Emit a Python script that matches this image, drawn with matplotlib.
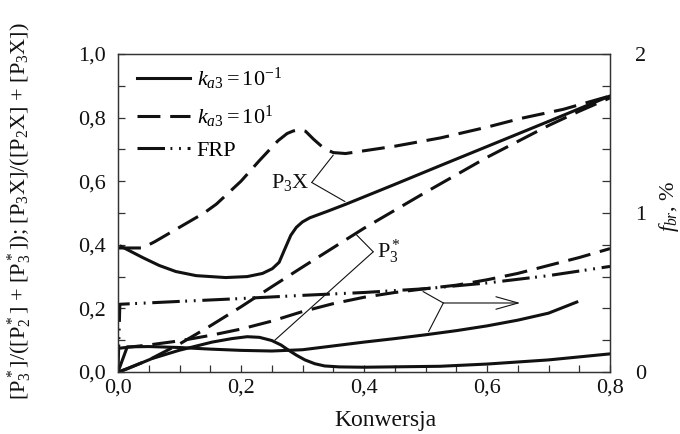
import numpy as np
import matplotlib
matplotlib.use("Agg")
import matplotlib.pyplot as plt
from matplotlib.ticker import MultipleLocator, FuncFormatter

plt.rcParams['font.family'] = ['Liberation Serif', 'DejaVu Serif']
plt.rcParams['mathtext.fontset'] = 'custom'
plt.rcParams['mathtext.rm'] = 'Liberation Serif'
plt.rcParams['mathtext.it'] = 'Liberation Serif:italic'
plt.rcParams['mathtext.bf'] = 'Liberation Serif:bold'

# --- data ---
# P3X fraction, k_a3 = 10^-1 (solid)
x_p3x_lo = [0.005, 0.02, 0.04, 0.067, 0.094, 0.127, 0.175, 0.21, 0.235, 0.251, 0.262,
            0.272, 0.281, 0.29, 0.30, 0.312, 0.34, 0.371, 0.45, 0.524, 0.6, 0.7, 0.8]
y_p3x_lo = [0.395, 0.38, 0.36, 0.335, 0.316, 0.303, 0.297, 0.30, 0.31, 0.325, 0.345,
            0.39, 0.43, 0.455, 0.472, 0.485, 0.505, 0.528, 0.59, 0.649, 0.709, 0.788, 0.868]
# P3X fraction, k_a3 = 10^1 (dashed)
x_p3x_hi = [0.0, 0.04, 0.06, 0.1, 0.14, 0.16, 0.2, 0.23, 0.26, 0.275, 0.285, 0.296,
            0.305, 0.318, 0.335, 0.35, 0.37, 0.45, 0.524, 0.6, 0.654, 0.724, 0.8]
y_p3x_hi = [0.39, 0.39, 0.41, 0.455, 0.5, 0.528, 0.6, 0.665, 0.727, 0.75, 0.758, 0.762,
            0.757, 0.732, 0.703, 0.69, 0.687, 0.71, 0.736, 0.77, 0.797, 0.826, 0.868]
# P3* fraction, k_a3 = 10^-1 (solid)
x_p3s_lo = [0.0, 0.015, 0.055, 0.099, 0.153, 0.185, 0.21, 0.23, 0.25, 0.265, 0.277, 0.29,
            0.304, 0.32, 0.336, 0.36, 0.4, 0.524, 0.6, 0.7, 0.8]
y_p3s_lo = [0.0, 0.01, 0.042, 0.068, 0.094, 0.105, 0.111, 0.109, 0.099, 0.085, 0.069, 0.053,
            0.038, 0.026, 0.019, 0.016, 0.015, 0.018, 0.025, 0.038, 0.057]
# P3* fraction, k_a3 = 10^1 (dashed)
x_p3s_hi = [0.005, 0.05, 0.1, 0.15, 0.2, 0.25, 0.3, 0.4, 0.5, 0.6, 0.7, 0.75, 0.8]
y_p3s_hi = [0.003, 0.038, 0.088, 0.145, 0.205, 0.268, 0.33, 0.452, 0.565, 0.675, 0.775, 0.82, 0.862]

# branching fraction f_br, % (right axis)
x_fbr_lo = [0.0, 0.015, 0.05, 0.1, 0.15, 0.2, 0.25, 0.3, 0.35, 0.4, 0.45, 0.5, 0.55,
            0.6, 0.65, 0.7, 0.746]
y_fbr_lo = [0.0, 0.158, 0.16, 0.154, 0.144, 0.136, 0.132, 0.14, 0.164, 0.188, 0.21, 0.234,
            0.26, 0.29, 0.326, 0.37, 0.44]
x_fbr_hi = [0.003, 0.05, 0.1, 0.15, 0.2, 0.25, 0.3, 0.35, 0.4, 0.45, 0.5, 0.55, 0.6,
            0.65, 0.7, 0.75, 0.8]
y_fbr_hi = [0.15, 0.17, 0.196, 0.23, 0.27, 0.32, 0.38, 0.43, 0.47, 0.5, 0.524, 0.546, 0.58,
            0.62, 0.67, 0.72, 0.776]
x_frp = [0.0, 0.003, 0.1, 0.2, 0.3, 0.4, 0.5, 0.6, 0.7, 0.8]
y_frp = [0.0, 0.426, 0.444, 0.462, 0.482, 0.5, 0.524, 0.56, 0.606, 0.664]

lab_lo = r'$k_{a3} = 10^{-1}$'
lab_hi = r'$k_{a3} = 10^{1}$'
lab_frp = 'FRP'

# --- styles ---
C = '#111111'
LW = 2.2
DASH = (7.5, 3.2)
DDOT = (9.0, 1.8, 0.6, 2.2, 0.6, 2.2)
FS = 16

fig = plt.figure(figsize=(6.8, 4.34), dpi=100)
ax = fig.add_axes([118/680, 1-372/434, 492/680, 318/434])
ax2 = ax.twinx()

ax.plot(x_p3x_lo, y_p3x_lo, color=C, lw=LW, label=lab_lo)
ax.plot(x_p3x_hi, y_p3x_hi, color=C, lw=LW, dashes=DASH, label=lab_hi)
ax.plot(x_p3s_lo, y_p3s_lo, color=C, lw=LW)
ax.plot(x_p3s_hi, y_p3s_hi, color=C, lw=LW, dashes=DASH)
ax.plot([], [], color=C, lw=LW, dashes=DDOT, label=lab_frp)

ax2.plot(x_fbr_lo, y_fbr_lo, color=C, lw=LW)
ax2.plot(x_fbr_hi, y_fbr_hi, color=C, lw=LW, dashes=DASH)
ax2.plot(x_frp, y_frp, color=C, lw=LW, dashes=DDOT)

ax.set_xlim(0, 0.8)
ax.set_ylim(0, 1.0)
ax2.set_ylim(0, 2.0)

comma = FuncFormatter(lambda v, p: f"{v:.1f}".replace('.', ','))
ax.xaxis.set_major_locator(MultipleLocator(0.2))
ax.xaxis.set_minor_locator(MultipleLocator(0.05))
ax.yaxis.set_major_locator(MultipleLocator(0.2))
ax.yaxis.set_minor_locator(MultipleLocator(0.1))
ax.xaxis.set_major_formatter(comma)
ax.yaxis.set_major_formatter(comma)
ax2.yaxis.set_major_locator(MultipleLocator(1))
ax2.yaxis.set_minor_locator(MultipleLocator(0.2))

ax.tick_params(axis='both', which='both', direction='in', length=5, width=0.9,
               labelsize=FS, colors='#333333', labelcolor=C)
ax.tick_params(axis='y', which='both', pad=9, right=False)
ax.tick_params(axis='x', which='both', pad=5, top=False)
ax2.tick_params(axis='y', which='both', direction='in', length=6, width=0.9,
                labelsize=FS, pad=18, colors='#333333', labelcolor=C)
for a in (ax, ax2):
    for s in a.spines.values():
        s.set_color('#333333')
        s.set_linewidth(0.9)

ax.set_xlabel('Konwersja', fontsize=17, color=C)
ax.xaxis.set_label_coords(0.543, -0.118)
ax.set_ylabel(r'[P$_3^*$]/([P$_2^*$] + [P$_3^*$]); [P$_3$X]/([P$_2$X] + [P$_3$X])',
              fontsize=16, color=C)
ax.yaxis.set_label_coords(-0.17, 0.505)
ax2.set_ylabel(r'$f_{br}$, %', fontsize=16, color=C)
ax2.yaxis.set_label_coords(1.095, 0.52)

leg = ax.legend(loc='upper left', bbox_to_anchor=(0.038, 0.962), frameon=False,
                fontsize=FS, handlelength=2.4, handletextpad=0.3, labelspacing=0.5,
                borderpad=0, borderaxespad=0)

# annotations
thin = dict(arrowstyle='-', lw=0.8, color=C, shrinkA=0, shrinkB=0)
ax.text(0.312, 0.596, r'P$_3$X', fontsize=16, ha='right', va='center', color=C)
ax.annotate('', xy=(0.35, 0.682), xytext=(0.315, 0.596), arrowprops=thin)
ax.annotate('', xy=(0.369, 0.536), xytext=(0.315, 0.596), arrowprops=thin)

ax.text(0.421, 0.378, r'P$_3^*$', fontsize=16, ha='left', va='center', color=C)
ax.annotate('', xy=(0.388, 0.431), xytext=(0.415, 0.378), arrowprops=thin)
ax.annotate('', xy=(0.255, 0.10), xytext=(0.415, 0.378), arrowprops=thin)

ax.annotate('', xy=(0.505, 0.127), xytext=(0.529, 0.217), arrowprops=thin)
ax.annotate('', xy=(0.496, 0.253), xytext=(0.529, 0.217), arrowprops=thin)
ax.annotate('', xy=(0.654, 0.217), xytext=(0.529, 0.217),
            arrowprops=dict(arrowstyle='->,head_length=1.6,head_width=0.45',
                            mutation_scale=10, lw=0.8, color=C, shrinkA=0, shrinkB=0))

fig.savefig('out.png', dpi=100)
